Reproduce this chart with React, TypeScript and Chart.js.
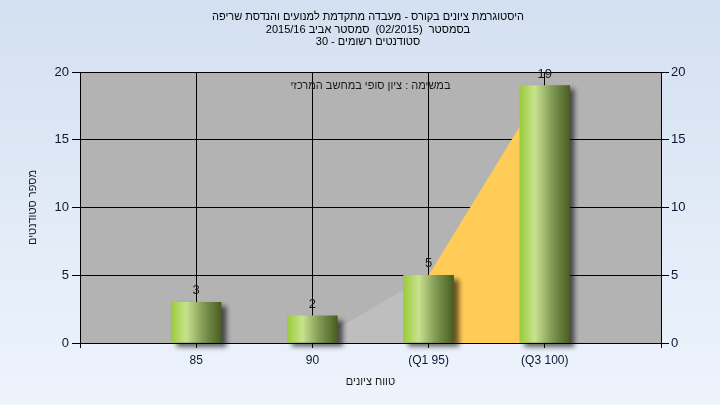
import React, { useEffect, useRef } from 'react';
import { Chart, registerables } from 'chart.js';

Chart.register(...registerables);

// ---- data ----
const categories = ['', '85', '90', '(Q1 95)', '(Q3 100)', ''];
const studentCounts = [null, 3, 2, 5, 19, null];
const grayArea = [null, null, 0, 5, null, null];
const yellowArea = [null, null, null, 5, 19, null];
const yMin = 0;
const yMax = 20;
const yStep = 5;
const titleLines = [
  'היסטוגרמת ציונים בקורס - מעבדה מתקדמת למנועים והנדסת שריפה',
  'בסמסטר  (02/2015)  סמסטר אביב 2015/16',
  'סטודנטים רשומים - 30',
];
const noteText = 'במשימה : ציון סופי במחשב המרכזי';
const xTitle = 'טווח ציונים';
const yTitle = 'מספר סטודנטים';

const FONT = "'Liberation Sans', Arial, sans-serif";
const TICK_COLOR = '#0c1633';

const bgPlugin = {
  id: 'pageBg',
  beforeDraw(chart: any) {
    const { ctx, width, height, chartArea: a } = chart;
    ctx.save();
    const g = ctx.createLinearGradient(0, 0, 0, height);
    g.addColorStop(0, '#D3E0F1');
    g.addColorStop(1, '#EEF4FC');
    ctx.fillStyle = g;
    ctx.fillRect(0, 0, width, height);
    ctx.fillStyle = '#B3B3B3';
    ctx.fillRect(a.left, a.top, a.right - a.left, a.bottom - a.top);
    ctx.restore();
  },
};

const shadowPlugin = {
  id: 'barShadow',
  beforeDatasetDraw(chart: any, args: any) {
    if (args.meta.type !== 'bar') return;
    const ctx = chart.ctx;
    ctx.save();
    ctx.shadowColor = 'rgba(0,0,0,0.6)';
    ctx.shadowBlur = 5;
    ctx.shadowOffsetX = 5;
    ctx.shadowOffsetY = 4;
  },
  afterDatasetDraw(chart: any, args: any) {
    if (args.meta.type !== 'bar') return;
    chart.ctx.restore();
  },
};

const labelPlugin = {
  id: 'labels',
  afterDatasetsDraw(chart: any) {
    const ctx = chart.ctx;
    const a = chart.chartArea;
    ctx.save();
    chart.data.datasets.forEach((ds: any, di: number) => {
      const meta = chart.getDatasetMeta(di);
      if (meta.type !== 'bar') return;
      meta.data.forEach((el: any, i: number) => {
        const v = ds.data[i];
        if (v === null || v === undefined) return;
        ctx.font = `13px ${FONT}`;
        ctx.fillStyle = '#1a1a1a';
        ctx.textAlign = 'center';
        ctx.textBaseline = 'middle';
        ctx.fillText(String(v), el.x, el.y - 11.5);
      });
    });
    ctx.font = `11px ${FONT}`;
    ctx.fillStyle = '#1a1a1a';
    ctx.textAlign = 'center';
    ctx.textBaseline = 'middle';
    ctx.fillText(noteText, (a.left + a.right) / 2, a.top + 14);
    ctx.restore();
  },
};

export default function App() {
  const ref = useRef<HTMLCanvasElement | null>(null);

  useEffect(() => {
    document.body.style.margin = '0';
    const canvas = ref.current;
    if (!canvas) return;

    const barFill = (c: any) => {
      const chart = c.chart;
      const xs = chart.scales && chart.scales.x;
      if (!xs || c.type !== 'data') return '#9ACB3C';
      const cx = xs.getPixelForValue(c.dataIndex);
      if (!Number.isFinite(cx)) return '#9ACB3C';
      const g = chart.ctx.createLinearGradient(cx - 25, 0, cx + 25, 0);
      g.addColorStop(0, '#9ACB3C');
      g.addColorStop(0.3, '#C9E28E');
      g.addColorStop(0.65, '#7F9852');
      g.addColorStop(1, '#485E20');
      return g;
    };

    const chart = new Chart(canvas, {
      type: 'bar',
      data: {
        labels: categories,
        datasets: [
          {
            type: 'bar',
            data: studentCounts,
            backgroundColor: barFill,
            borderWidth: 0,
            barThickness: 50,
            order: 0,
            clip: false as any,
            yAxisID: 'y',
          },
          {
            type: 'line',
            data: grayArea,
            backgroundColor: '#BEBEBE',
            borderWidth: 0,
            borderColor: 'rgba(0,0,0,0)',
            pointRadius: 0,
            fill: 'origin',
            tension: 0,
            order: 2,
            yAxisID: 'y',
          },
          {
            type: 'line',
            data: yellowArea,
            backgroundColor: '#FFCC57',
            borderWidth: 0,
            borderColor: 'rgba(0,0,0,0)',
            pointRadius: 0,
            fill: 'origin',
            tension: 0,
            order: 1,
            yAxisID: 'y',
          },
        ] as any,
      },
      options: {
        responsive: false,
        animation: false,
        events: [],
        layout: { padding: { left: 16, right: 0, top: 0, bottom: 0 } },
        plugins: {
          legend: { display: false },
          tooltip: { enabled: false },
          title: {
            display: true,
            text: titleLines,
            color: '#000',
            font: { family: FONT, size: 11, weight: 'normal', lineHeight: 12.5 / 11 },
            padding: { top: 11, bottom: 23.5 },
          },
        },
        scales: {
          x: {
            type: 'category',
            offset: false,
            grid: { color: '#000', lineWidth: 1, tickLength: 5, drawOnChartArea: true, offset: false },
            border: { color: '#000', width: 1 },
            ticks: {
              color: TICK_COLOR,
              font: { family: FONT, size: 12 },
              padding: 5,
              maxRotation: 0,
              autoSkip: false,
            },
            title: {
              display: true,
              text: xTitle,
              color: '#1a1a1a',
              font: { family: FONT, size: 11 },
              padding: { top: 0, bottom: 16 },
            },
            afterFit: (s: any) => { s.height = 62; },
          },
          y: {
            position: 'left',
            min: yMin,
            max: yMax,
            grid: { color: '#000', lineWidth: 1, tickLength: 8 },
            border: { color: '#000', width: 1 },
            ticks: {
              stepSize: yStep,
              color: TICK_COLOR,
              font: { family: FONT, size: 13 },
              padding: 3,
            },
            title: {
              display: true,
              text: yTitle,
              color: '#1a1a1a',
              font: { family: FONT, size: 11 },
              padding: { top: 10, bottom: 0 },
            },
            afterFit: (s: any) => { s.width = 64; },
          },
          y2: {
            position: 'right',
            min: yMin,
            max: yMax,
            grid: { color: '#000', lineWidth: 1, tickLength: 8, drawOnChartArea: false },
            border: { color: '#000', width: 1 },
            ticks: {
              stepSize: yStep,
              color: TICK_COLOR,
              font: { family: FONT, size: 13 },
              padding: 2,
            },
            afterFit: (s: any) => { s.width = 59; },
          },
        },
      } as any,
      plugins: [bgPlugin, shadowPlugin, labelPlugin],
    });

    return () => chart.destroy();
  }, []);

  return (
    <div style={{ width: 720, height: 405 }}>
      <canvas ref={ref} width={720} height={405} style={{ display: 'block' }} />
    </div>
  );
}
